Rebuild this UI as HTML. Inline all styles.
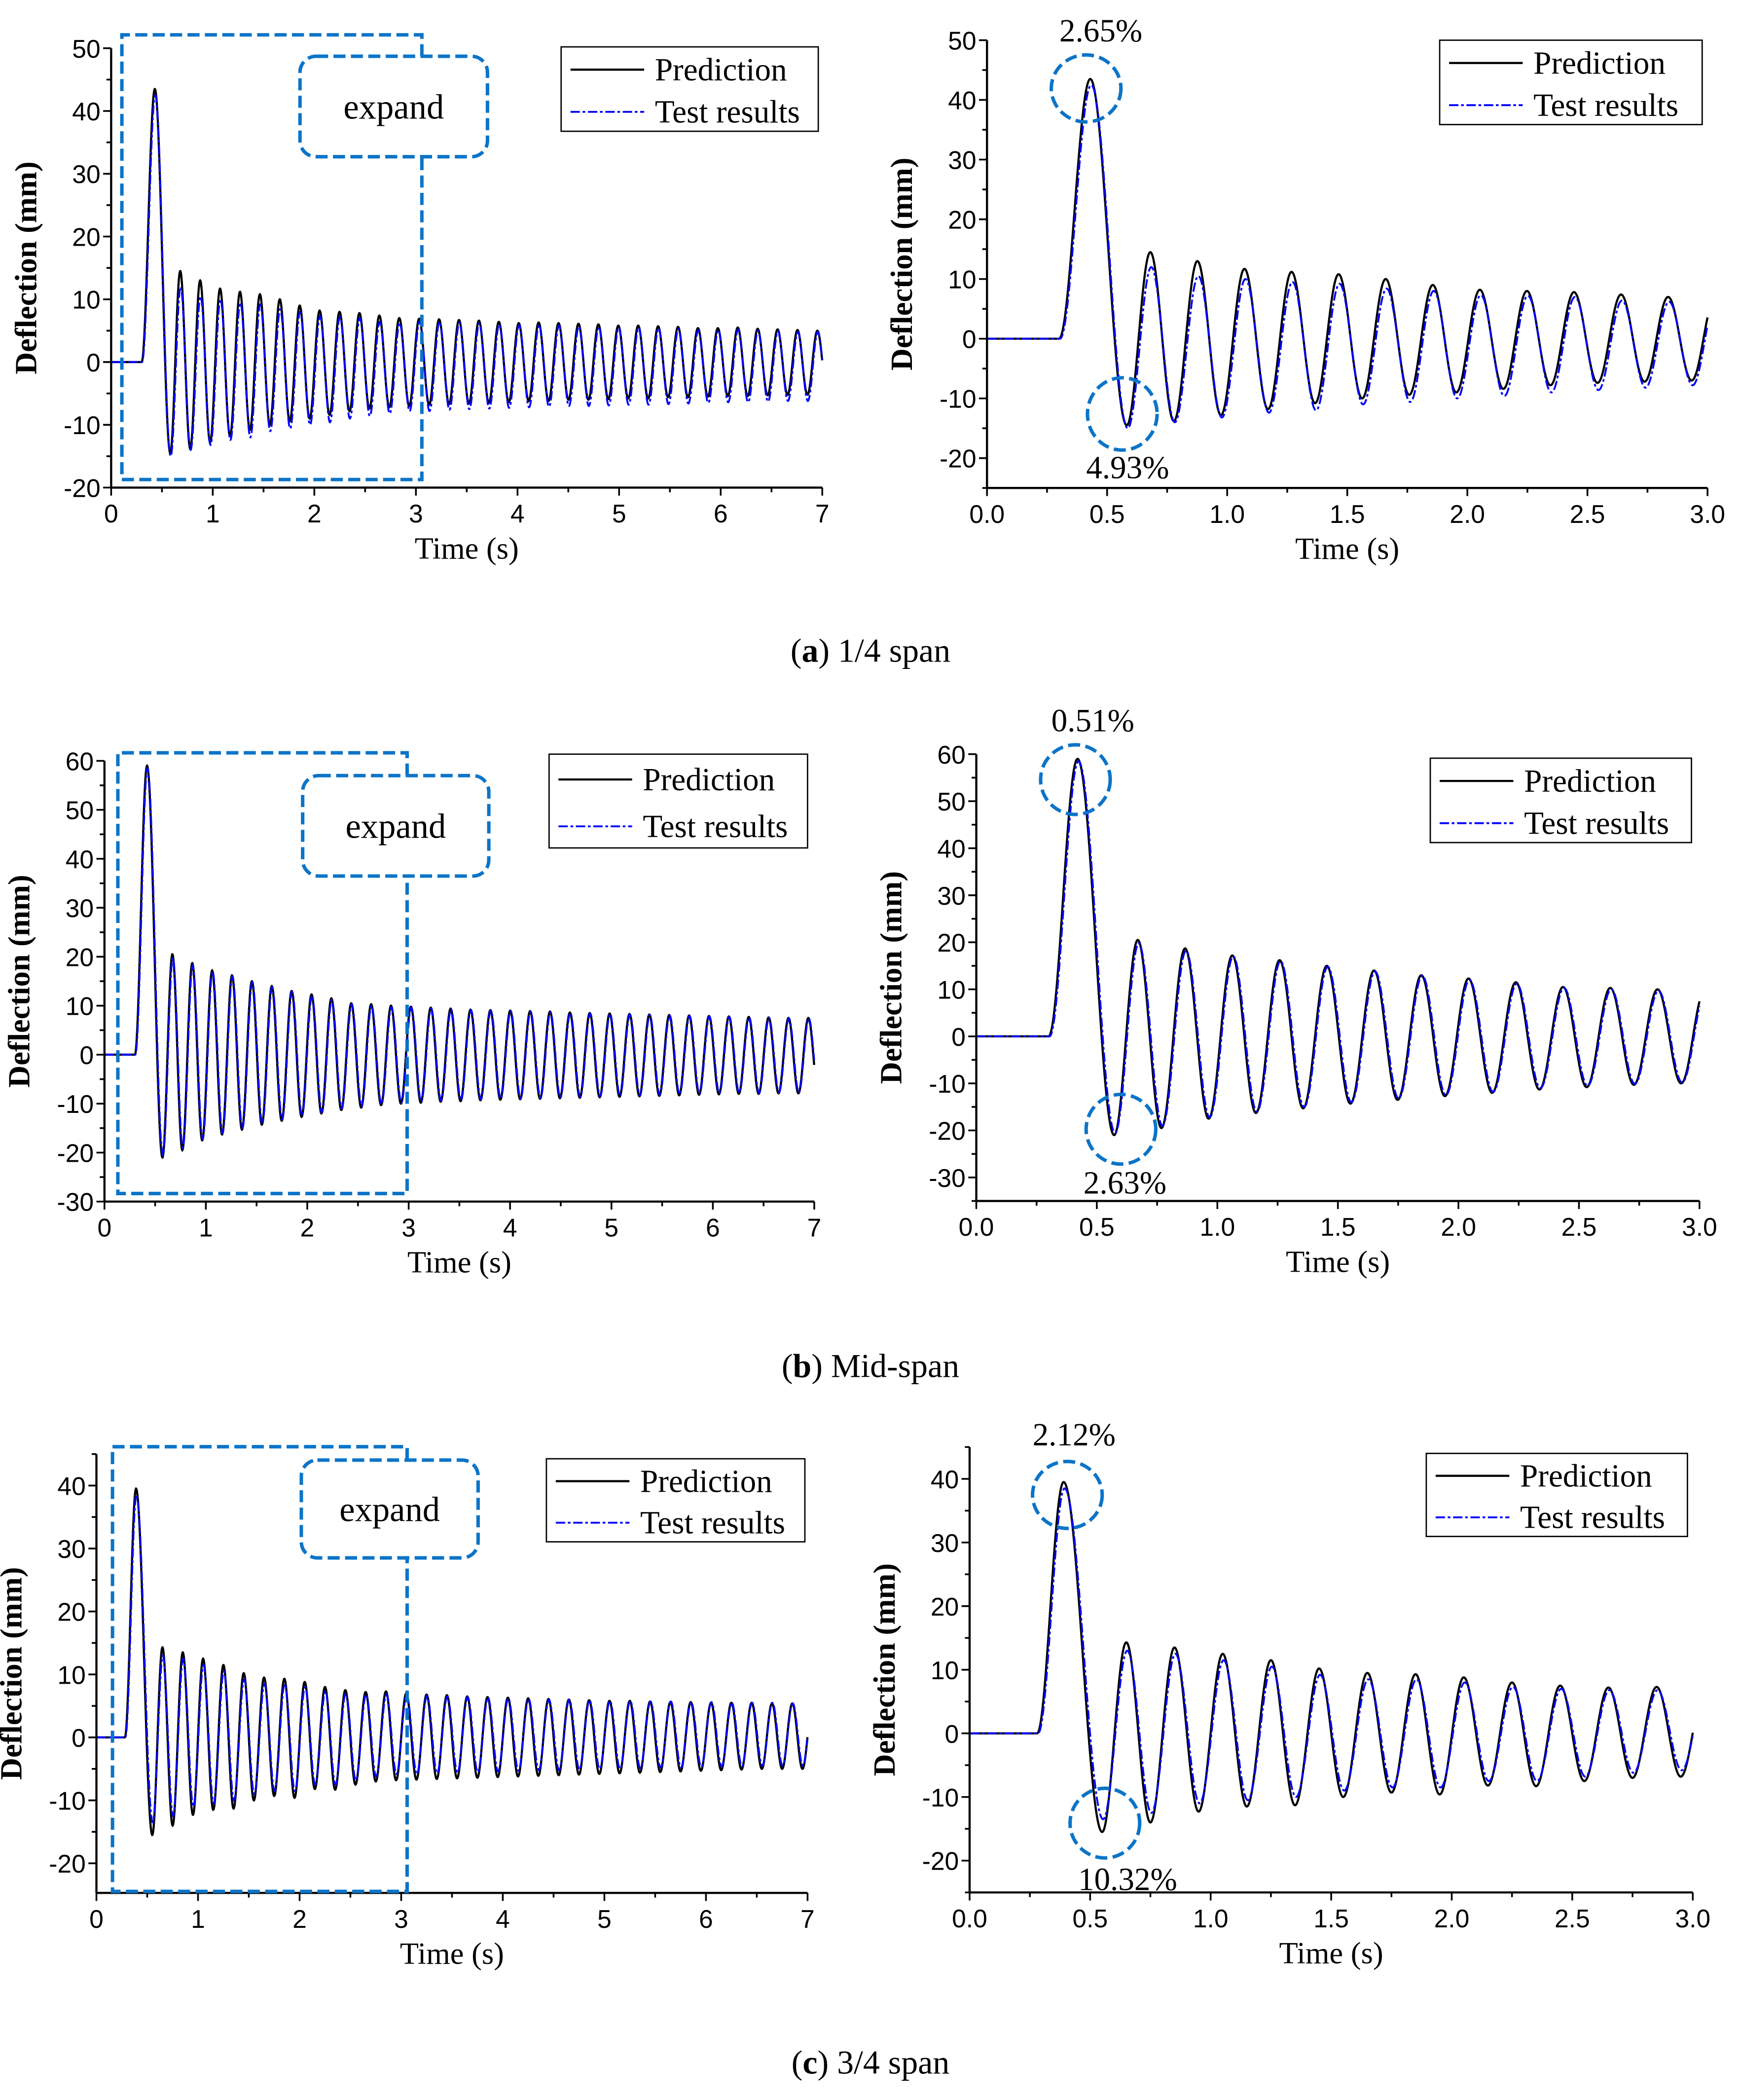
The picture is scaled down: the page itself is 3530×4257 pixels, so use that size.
<!DOCTYPE html>
<html><head><meta charset="utf-8"><style>
html,body{margin:0;padding:0;background:#fff;}
svg{display:block;}
text{font-family:"Liberation Serif",serif;fill:#000;}
.tk{font-family:"Liberation Sans Narrow","Liberation Sans",sans-serif;font-size:19px;}
</style></head><body>
<svg id="fig" xmlns="http://www.w3.org/2000/svg" width="3530" height="4257" viewBox="0 0 1300 1567.7" preserveAspectRatio="none">
<rect width="1300" height="1567.7" fill="#fff"/>
<text x="650" y="494" font-size="25" text-anchor="middle">(<tspan font-weight="bold">a</tspan>) 1/4 span</text>
<text x="650" y="1028" font-size="25" text-anchor="middle">(<tspan font-weight="bold">b</tspan>) Mid-span</text>
<text x="650" y="1548" font-size="25" text-anchor="middle">(<tspan font-weight="bold">c</tspan>) 3/4 span</text>
</svg>
<script>
// ---- data (extrema of each response) ----
const spanA_timing = [0.30, 0.43, 0.68, 0.196]; // start, first peak, second peak, period
const spanA_predPeaks = [43.5,14.5,13,11.7,11.2,10.8,10,9,8.2,8,7.8,7.4,7,6.9,6.8,6.7,6.6,6.4,6.2,6.3,6.2,6.1,6,5.8,5.8,5.7,5.6,5.4,5.4,5.5,5.3,5.2,5.1,5.0,5.0];
const spanA_predTroughs = [-14.5,-13.8,-12.8,-11.8,-10.8,-10,-9.4,-9,-8.4,-7.8,-7.4,-7.2,-7,-6.8,-6.7,-6.6,-6.5,-6.4,-6.2,-6.2,-6,-6,-5.9,-5.8,-5.8,-5.6,-5.6,-5.5,-5.4,-5.4,-5.3,-5.2,-5.2,-5.1];
const spanA_testPeaks = [42.5,12,10.5,10,9.5,9.2,8.4,8,7.3,7.2,7,6.4,6.2,6.5,6.4,6.3,6.2,6,5.9,5.9,5.8,5.7,5.6,5.5,5.5,5.4,5.3,5.1,5.1,5.2,5,4.9,4.8,4.8,4.7];
const spanA_testTroughs = [-15,-14,-13.2,-12.4,-12,-11,-10.6,-10,-9.6,-9,-8.6,-8.2,-7.8,-7.8,-7.6,-7.5,-7.4,-7.3,-7.2,-7.1,-7,-7,-6.9,-6.8,-6.8,-6.7,-6.6,-6.5,-6.4,-6.4,-6.3,-6.2,-6.2,-6.1];

const spanB_timing = [0.30, 0.42, 0.67, 0.196];
const spanB_predPeaks = [59,20.5,18.7,17.2,16.2,15,14,13,12.3,11.5,10.5,10.3,10,9.8,9.6,9.4,9.2,9.1,9,8.9,8.8,8.6,8.5,8.4,8.3,8.2,8.1,8,7.9,7.8,7.7,7.6,7.5,7.5,7.4];
const spanB_predTroughs = [-21,-19.5,-17.5,-16.3,-15.3,-14.3,-13.5,-12.7,-12,-11.3,-10.8,-10.3,-10,-9.8,-9.6,-9.5,-9.3,-9.2,-9.1,-9,-8.9,-8.8,-8.7,-8.6,-8.5,-8.4,-8.3,-8.2,-8.1,-8,-8,-7.9,-7.9,-7.8];
const spanB_testPeaks = [58.5,19.8,18.2,17,16,14.8,13.8,12.9,12,11.2,10.3,10,9.7,9.6,9.4,9.2,9.1,9,8.9,8.8,8.6,8.5,8.4,8.3,8.2,8.1,8,7.9,7.8,7.7,7.6,7.5,7.4,7.4,7.3];
const spanB_testTroughs = [-20.5,-19,-17.2,-16,-15,-14,-13.2,-12.5,-11.8,-11,-10.5,-10.1,-9.8,-9.6,-9.4,-9.3,-9.1,-9,-8.9,-8.8,-8.7,-8.6,-8.5,-8.4,-8.3,-8.2,-8.1,-8,-7.9,-7.8,-7.8,-7.7,-7.7,-7.6];

const spanC_timing = [0.28, 0.39, 0.65, 0.2];
const spanC_predPeaks = [39.5,14.3,13.5,12.5,11.5,10.2,9.5,9.3,8.8,8,7.5,7.2,7.3,7,6.8,6.7,6.5,6.4,6.3,6.2,6.1,6,5.9,5.8,5.8,5.7,5.6,5.6,5.5,5.5,5.5,5.4,5.4,5.4,5.3];
const spanC_predTroughs = [-15.5,-14,-12.3,-11.5,-11.3,-10,-9.3,-9.6,-8.2,-8.3,-7.5,-7,-6.8,-6.7,-6.6,-6.5,-6.4,-6.3,-6.2,-6.1,-6,-5.9,-5.8,-5.7,-5.6,-5.5,-5.4,-5.3,-5.2,-5.1,-5,-5,-5,-4.9];
const spanC_testPeaks = [38.5,13,12.5,11.5,10.5,9.2,8.5,8.5,8,7.3,7,6.8,6.8,6.7,6.6,6.5,6.4,6.3,6.2,6.1,6,6,5.9,5.8,5.8,5.7,5.7,5.6,5.6,5.5,5.5,5.5,5.4,5.4,5.3];
const spanC_testTroughs = [-13.5,-12.5,-11,-10.5,-10,-9,-8.5,-8.5,-7.5,-7.5,-6.8,-6.2,-5.8,-5.8,-5.7,-5.6,-5.5,-5.4,-5.3,-5.2,-5.2,-5.1,-5,-5,-4.9,-4.8,-4.8,-4.7,-4.6,-4.6,-4.5,-4.5,-4.5,-4.4];

const ticksLong = ["0","1","2","3","4","5","6","7"];
const ticksShort = ["0.0","0.5","1.0","1.5","2.0","2.5","3.0"];
const yTicksA = [-20,-10,0,10,20,30,40,50];
const yTicksB = [-30,-20,-10,0,10,20,30,40,50,60];
const yTicksC = [-20,-10,0,10,20,30,40];

const NS = "http://www.w3.org/2000/svg";
const svg = document.getElementById('fig');
function mk(tag, attrs, parent){
  const e = document.createElementNS(NS, tag);
  for (const k in attrs) e.setAttribute(k, attrs[k]);
  (parent||svg).appendChild(e);
  return e;
}
const BLUE = "#0b74c8";

function extrema(timing, peaks, troughs, shift){
  const [ts, tp0, t1, p] = timing;
  const s = shift || 0;
  const pts = [[0,0],[ts+s,0],[tp0+s,peaks[0]]];
  for (let k = 0; k < troughs.length; k++){
    pts.push([t1 + s + k*p - p/2, troughs[k]]);
    if (k+1 < peaks.length) pts.push([t1 + s + k*p, peaks[k+1]]);
  }
  return pts;
}
function curve(pts, tmax, sx, sy){
  let d = "";
  const step = 0.003;
  let j = 0;
  for (let t = 0; t <= tmax + 1e-9; t += step){
    while (j < pts.length-2 && t > pts[j+1][0]) j++;
    const a = pts[j], b = pts[j+1];
    let v;
    if (t <= a[0]) v = a[1];
    else if (t >= b[0]) v = b[1];
    else { const u = (t-a[0])/(b[0]-a[0]); v = a[1] + (b[1]-a[1])*(1-Math.cos(Math.PI*u))/2; }
    d += (d ? "L" : "M") + sx(t).toFixed(2) + "," + sy(v).toFixed(2);
  }
  return d;
}

function panel(cfg){
  const g = mk('g', {});
  
  
  const sx = t => cfg.x0 + t * (cfg.x1 - cfg.x0) / cfg.tmax;
  const sy = v => cfg.yA + (v - cfg.vA) * (cfg.yB - cfg.yA) / (cfg.vB - cfg.vA);
  const pred = mk('path', {d: curve(extrema(cfg.timing, cfg.pp, cfg.pt, 0), cfg.tmax, sx, sy), fill:'none', stroke:'#000', 'stroke-width':1.6}, g);
  
  
  const test = mk('path', {d: curve(extrema(cfg.timing, cfg.tp, cfg.tt, 0.004), cfg.tmax, sx, sy), fill:'none', stroke:'#0000ff', 'stroke-width':1.4, 'stroke-dasharray':'7,2,2,2'}, g);
  
  
  const yTop = sy(cfg.vTop), yBot = sy(cfg.vBot);
  const ya = mk('line', {x1:cfg.x0, y1:yTop, x2:cfg.x0, y2:yBot, stroke:'#000', 'stroke-width':1.6}, g);
  
  
  const xa = mk('line', {x1:cfg.x0, y1:yBot, x2:cfg.x1, y2:yBot, stroke:'#000', 'stroke-width':1.6}, g);
  
  
  for (let v = Math.ceil(cfg.vBot/5)*5; v <= cfg.vTop + 1e-9; v += 5){
    const major = Math.abs(v % 10) < 1e-9;
    mk('line', {x1:cfg.x0, y1:sy(v), x2:cfg.x0 - (major?6:3.5), y2:sy(v), stroke:'#000', 'stroke-width':1.3}, g);
  }
  cfg.yt.forEach(v => {
    const t = mk('text', {x:cfg.x0 - 8, y:sy(v) + 7, 'text-anchor':'end', class:'tk'}, g);
    
    
    t.textContent = v;
  });
  const n = cfg.xt.length - 1;
  for (let i = 0; i <= 2*n; i++){
    const t = cfg.tmax * i / (2*n);
    const major = i % 2 === 0;
    mk('line', {x1:sx(t), y1:yBot, x2:sx(t), y2:yBot + (major?6:3.5), stroke:'#000', 'stroke-width':1.3}, g);
  }
  cfg.xt.forEach((lab, i) => {
    const t = mk('text', {x:sx(cfg.tmax*i/n), y:yBot + 26, 'text-anchor':'middle', class:'tk'}, g);
    
    
    t.textContent = lab;
  });
  const xt = mk('text', {x:(cfg.x0+cfg.x1)/2, y:yBot + 53, 'text-anchor':'middle', 'font-size':23}, g);
  
  
  xt.textContent = 'Time (s)';
  const yc = (yTop + yBot)/2;
  const yx = cfg.x0 - 56;
  const yt = mk('text', {x:yx, y:yc, 'text-anchor':'middle', 'font-size':23, 'font-weight':'bold', transform:`rotate(-90 ${yx} ${yc})`}, g);
  
  
  yt.textContent = 'Deflection (mm)';
  const L = cfg.leg;
  const lg = mk('g', {}, g);
  
  
  mk('rect', {x:L[0], y:L[1], width:L[2]-L[0], height:L[3]-L[1], fill:'#fff', stroke:'#000', 'stroke-width':1}, lg);
  const r1 = L[1] + (L[3]-L[1])*0.27, r2 = L[1] + (L[3]-L[1])*0.77;
  mk('line', {x1:L[0]+7, y1:r1, x2:L[0]+62, y2:r1, stroke:'#000', 'stroke-width':1.6}, lg);
  mk('line', {x1:L[0]+7, y1:r2, x2:L[0]+62, y2:r2, stroke:'#0000ff', 'stroke-width':1.4, 'stroke-dasharray':'7,2,2,2'}, lg);
  const e1 = mk('text', {x:L[0]+70, y:r1+8, 'font-size':24}, lg);
  
  
  e1.textContent = 'Prediction';
  const e2 = mk('text', {x:L[0]+70, y:r2+8, 'font-size':24}, lg);
  
  
  e2.textContent = 'Test results';
  if (cfg.exp){
    const E = cfg.exp;
    const dash = {fill:'none', stroke:BLUE, 'stroke-width':2.6, 'stroke-dasharray':'9,4'};
    const outer = mk('path', Object.assign({d:`M${E[2]},${E[5]} L${E[2]},${E[1]} L${E[0]},${E[1]} L${E[0]},${E[3]} L${E[2]},${E[3]} L${E[2]},${E[7]}`}, dash), g);
    
    
    const box = mk('rect', Object.assign({x:E[4], y:E[5], width:E[6]-E[4], height:E[7]-E[5], rx:12}, dash), g);
    
    
    const et = mk('text', {x:(E[4]+E[6])/2, y:(E[5]+E[7])/2 + 9, 'text-anchor':'middle', 'font-size':26}, g);
    
    
    et.textContent = 'expand';
  }
  if (cfg.circ){
    cfg.circ.forEach(c => {
      const el = mk('ellipse', {cx:c[0], cy:c[1], rx:c[2], ry:c[3], fill:'none', stroke:BLUE, 'stroke-width':2.6, 'stroke-dasharray':'9,4'}, g);
      
      
      const tx = mk('text', {x:c[4], y:c[5], 'text-anchor':'middle', 'font-size':24}, g);
      
      
      tx.textContent = c[6];
    });
  }
}

panel({name:'chart-a-full', x0:83, x1:614, tmax:7, yA:36, vA:50, yB:364, vB:-20, vTop:50, vBot:-20,
  timing:spanA_timing, pp:spanA_predPeaks, pt:spanA_predTroughs, tp:spanA_testPeaks, tt:spanA_testTroughs,
  xt:ticksLong, yt:yTicksA, leg:[419,35,611,98], exp:[91,26,315,358,224,42,364,117]});
panel({name:'chart-a-zoom', x0:737, x1:1275, tmax:3, yA:30, vA:50, yB:342, vB:-20, vTop:50, vBot:-25,
  timing:spanA_timing, pp:spanA_predPeaks, pt:spanA_predTroughs, tp:spanA_testPeaks, tt:spanA_testTroughs,
  xt:ticksShort, yt:yTicksA, leg:[1075,30,1271,93], circ:[[811,66,26,25,822,31,'2.65%'],[838,309,26,27,842,357,'4.93%']]});
panel({name:'chart-b-full', x0:78, x1:608, tmax:7, yA:568, vA:60, yB:897, vB:-30, vTop:60, vBot:-30,
  timing:spanB_timing, pp:spanB_predPeaks, pt:spanB_predTroughs, tp:spanB_testPeaks, tt:spanB_testTroughs,
  xt:ticksLong, yt:yTicksB, leg:[410,563,603,633], exp:[88,562,304,891,226,579,365,654]});
panel({name:'chart-b-zoom', x0:729, x1:1269, tmax:3, yA:563, vA:60, yB:879, vB:-30, vTop:60, vBot:-35,
  timing:spanB_timing, pp:spanB_predPeaks, pt:spanB_predTroughs, tp:spanB_testPeaks, tt:spanB_testTroughs,
  xt:ticksShort, yt:yTicksB, leg:[1068,566,1263,629], circ:[[803,582,26,26,816,546,'0.51%'],[837,843,26,26,840,891,'2.63%']]});
panel({name:'chart-c-full', x0:72, x1:603, tmax:7, yA:1109, vA:40, yB:1391, vB:-20, vTop:45, vBot:-24.7,
  timing:spanC_timing, pp:spanC_predPeaks, pt:spanC_predTroughs, tp:spanC_testPeaks, tt:spanC_testTroughs,
  xt:ticksLong, yt:yTicksC, leg:[408,1089,601,1151], exp:[84,1080,304,1412,225,1090,357,1163]});
panel({name:'chart-c-zoom', x0:724, x1:1264, tmax:3, yA:1104, vA:40, yB:1389, vB:-20, vTop:45, vBot:-25,
  timing:spanC_timing, pp:spanC_predPeaks, pt:spanC_predTroughs, tp:spanC_testPeaks, tt:spanC_testTroughs,
  xt:ticksShort, yt:yTicksC, leg:[1065,1085,1260,1147], circ:[[797,1116,26,25,802,1079,'2.12%'],[825,1361,26,26,842,1411,'10.32%']]});
</script>
</body></html>
